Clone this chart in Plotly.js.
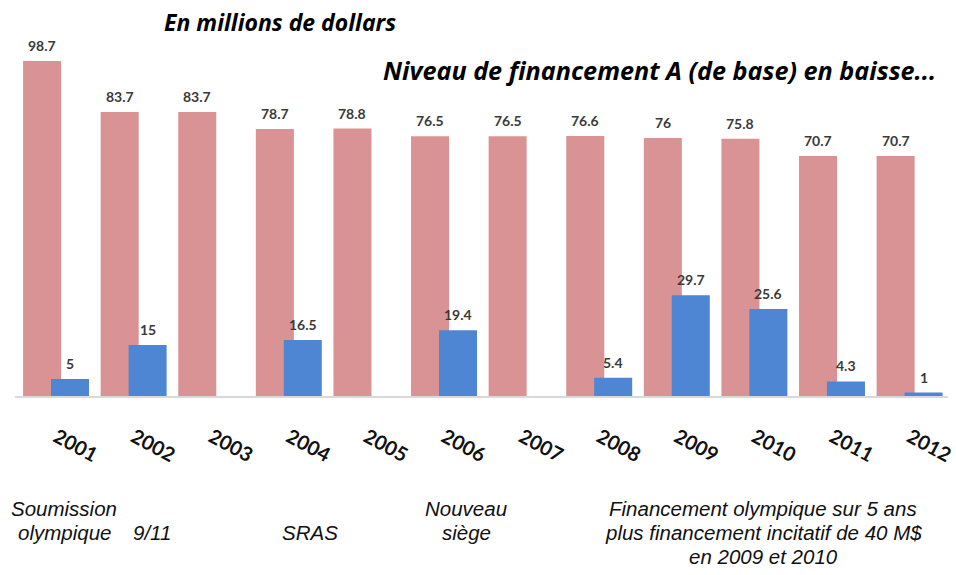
<!DOCTYPE html>
<html>
<head>
<meta charset="utf-8">
<script src="https://cdn.plot.ly/plotly-3.0.1.min.js"></script>
<style>html,body{margin:0;padding:0;background:#fff;}#chart{width:956px;height:575px;}</style>
</head>
<body>
<div id="chart"></div>
<script>
// ---- data ----
const years = ["2001","2002","2003","2004","2005","2006","2007","2008","2009","2010","2011","2012"];
const baseFunding = [98.7, 83.7, 83.7, 78.7, 78.8, 76.5, 76.5, 76.6, 76, 75.8, 70.7, 70.7];
const extraFunding = [5, 15, null, 16.5, null, 19.4, null, 5.4, 29.7, 25.6, 4.3, 1];
const titleTop = "En millions de dollars";
const titleRight = "Niveau de financement A (de base) en baisse...";
const notes = [
  {lines: ["Soumission", "olympique"], px: 64, py: 508},
  {lines: ["9/11"], px: 152, py: 532},
  {lines: ["SRAS"], px: 310, py: 532},
  {lines: ["Nouveau", "siège"], px: 466, py: 508},
  {lines: ["Financement olympique sur 5 ans", "plus financement incitatif de 40 M$", "en 2009 et 2010"], px: 763, py: 508}
];

// ---- layout constants ----
const W = 956, H = 575;
const mL = 15, mR = 8, mT = 0, mB = 179;
const plotW = W - mL - mR, plotH = H - mT - mB;
const xMin = -0.534, xMax = 11.49;
const pxPerCat = plotW / (xMax - xMin);
const redOffset = -0.43, blueOffset = -0.07, barW = 0.49;
const SANS = "'Open Sans', Lato, sans-serif";
const NOTEFONT = "'Liberation Sans', Arial, sans-serif";
const TICKFONT = "Lato, 'Open Sans', sans-serif";
const LINE_H = 24;

const px2paperX = p => (p - mL) / plotW;
const px2paperY = p => (H - mB - p) / plotH;

const traces = [
  {type: "bar", x: years, y: baseFunding, name: "Base",
   marker: {color: "#d99394"}, width: barW, offset: redOffset, hoverinfo: "x+y"},
  {type: "bar", x: years, y: extraFunding, name: "Extra",
   marker: {color: "#4f86d4"}, width: barW, offset: blueOffset, hoverinfo: "x+y"}
];

const valueFont = {family: TICKFONT, size: 14, weight: 700, color: "#3a3a3a"};
const annotations = [];
years.forEach((yr, i) => {
  // category axis: annotation x given as category index
  annotations.push({x: i, y: baseFunding[i], xref: "x", yref: "y", text: String(baseFunding[i]),
    showarrow: false, yanchor: "bottom", xshift: (redOffset + barW / 2) * pxPerCat, yshift: 5,
    font: valueFont});
  if (extraFunding[i] !== null) {
    annotations.push({x: i, y: extraFunding[i], xref: "x", yref: "y", text: String(extraFunding[i]),
      showarrow: false, yanchor: "bottom", xshift: (blueOffset + barW / 2) * pxPerCat, yshift: 5,
      font: valueFont});
  }
});
annotations.push({xref: "paper", yref: "paper", x: px2paperX(280), y: px2paperY(22), text: titleTop,
  showarrow: false, xanchor: "center", yanchor: "middle",
  font: {family: SANS, size: 23, weight: 700, style: "italic", color: "#000"}});
annotations.push({xref: "paper", yref: "paper", x: px2paperX(659), y: px2paperY(70), text: titleRight,
  showarrow: false, xanchor: "center", yanchor: "middle",
  font: {family: SANS, size: 25.2, weight: 700, style: "italic", color: "#000"}});
notes.forEach(n => {
  n.lines.forEach((ln, k) => {
    annotations.push({xref: "paper", yref: "paper", x: px2paperX(n.px), y: px2paperY(n.py + k * LINE_H), text: ln,
      showarrow: false, xanchor: "center", yanchor: "middle", align: "center", borderpad: 0,
      font: {family: NOTEFONT, size: 20.5, style: "italic", color: "#111"}});
  });
});

const layout = {
  width: W, height: H,
  margin: {l: mL, r: mR, t: mT, b: mB, pad: 0},
  paper_bgcolor: "#fff", plot_bgcolor: "#fff",
  barmode: "overlay",
  showlegend: false,
  xaxis: {type: "category", range: [xMin, xMax], showgrid: false, zeroline: false,
    showline: true, linecolor: "#d9d9d9", linewidth: 2,
    ticks: "", tickangle: 28, ticklabelstandoff: 20,
    tickfont: {family: TICKFONT, size: 20, weight: 700, color: "#111"}},
  yaxis: {range: [0, plotH / 3.394], visible: false, showgrid: false, zeroline: false},
  annotations: annotations
};

Plotly.newPlot("chart", traces, layout, {staticPlot: true});
</script>
</body>
</html>
